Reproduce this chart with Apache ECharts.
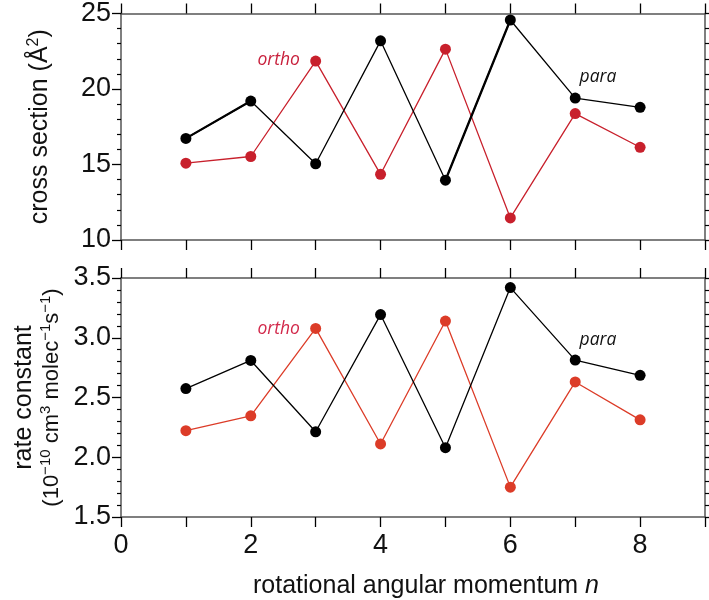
<!DOCTYPE html>
<html><head><meta charset="utf-8">
<script src="https://cdn.jsdelivr.net/npm/echarts@6/dist/echarts.min.js"></script>
<style>html,body{margin:0;padding:0;background:#fff}#c{width:709px;height:600px}</style>
</head><body><div id="c"></div>
<script>
// ---- data ----
const nValues   = [1, 2, 3, 4, 5, 6, 7, 8];
const crossPara  = [16.73, 19.20, 15.05, 23.19, 13.96, 24.57, 19.40, 18.79];
const crossOrtho = [15.09, 15.53, 21.85, 14.35, 22.64, 11.46, 18.37, 16.14];
const ratePara   = [2.575, 2.81, 2.213, 3.194, 2.08, 3.42, 2.813, 2.686];
const rateOrtho  = [2.222, 2.347, 3.078, 2.111, 3.14, 1.75, 2.63, 2.313];
const xTickLabels = [0, 2, 4, 6, 8];
const crossTickLabels = [10, 15, 20, 25];
const rateTickLabels = [1.5, 2.0, 2.5, 3.0, 3.5];
const thickParaSegments = [0, 1, 4, 5]; // indices of the heavier black segments (top panel)

const FONT = 'Liberation Sans';
const AXC = '#555';
const pairs = (vals) => nValues.map((n, i) => [n, vals[i]]);

function xAxis(grid, pos, labels, extra) {
  return Object.assign({
    type: 'value', gridIndex: grid, position: pos, min: 0, max: 9, interval: 1,
    axisLine: { show: true, onZero: false, lineStyle: { color: AXC, width: 1.5 } },
    axisTick: { show: true, inside: false, length: 10, lineStyle: { color: '#000', width: 1.3 } },
    axisLabel: labels ? {
      show: true, margin: 15, fontSize: 27, fontFamily: FONT, color: '#111',
      formatter: v => xTickLabels.includes(v) ? String(v) : ''
    } : { show: false },
    splitLine: { show: false }
  }, extra || {});
}
function yAxis(grid, pos, min, max, interval, labelTicks, fmt, extra) {
  const left = pos === 'left';
  return Object.assign({
    type: 'value', gridIndex: grid, position: pos, min, max, interval,
    axisLine: { show: true, onZero: false, lineStyle: { color: AXC, width: 1.5 } },
    axisTick: { show: true, inside: false, length: left ? 9 : 5, lineStyle: { color: '#000', width: 1.3 } },
    minorTick: { show: true, splitNumber: 5, length: left ? 4 : 5, lineStyle: { color: '#000', width: 1.2 } },
    axisLabel: left ? {
      show: true, margin: 10, fontSize: 27, fontFamily: FONT, color: '#111',
      formatter: v => labelTicks.some(t => Math.abs(t - v) < 1e-6) ? fmt(v) : ''
    } : { show: false },
    splitLine: { show: false }, minorSplitLine: { show: false }
  }, extra || {});
}

const RED_TOP = '#c8202c', RED_BOT = '#dc3c28';
const labelStyle = (c) => ({ fontSize: 17.5, fontStyle: 'italic', fontFamily: 'Open Sans', color: c });
function note(text, coord, color) {
  return {
    symbol: 'rect', symbolSize: 1, silent: true,
    itemStyle: { color: 'rgba(0,0,0,0)' },
    label: Object.assign({ show: true, position: 'inside', formatter: text }, labelStyle(color)),
    data: [{ coord }]
  };
}
function lineSeries(xi, yi, vals, color, width, mp) {
  return {
    type: 'line', xAxisIndex: xi, yAxisIndex: yi, data: pairs(vals),
    symbol: 'circle', symbolSize: 11, showSymbol: true,
    lineStyle: { color, width }, itemStyle: { color }, z: color === '#000' ? 3 : 2,
    markPoint: mp
  };
}

const chart = echarts.init(document.getElementById('c'), null, { renderer: 'canvas' });
chart.setOption({
  animation: false,
  backgroundColor: '#fff',
  grid: [
    { left: 121, top: 11, width: 584, height: 229 },
    { left: 121, top: 278, width: 584, height: 240 }
  ],
  xAxis: [
    xAxis(0, 'bottom', false),
    xAxis(0, 'top', false),
    xAxis(1, 'bottom', true, {
      name: '{a|rotational angular momentum }{i|n}', nameLocation: 'middle', nameGap: 57,
      nameTextStyle: { padding: [0, 0, 0, 26],
        rich: { a: { fontSize: 25, fontFamily: FONT, color: '#111' },
                i: { fontSize: 25, fontFamily: FONT, fontStyle: 'italic', color: '#111' } } }
    }),
    xAxis(1, 'top', false)
  ],
  yAxis: [
    yAxis(0, 'left', 10, 25, 5, crossTickLabels, v => String(v), {
      name: '{a|cross section (Å}{s|2}{a|)}', nameLocation: 'middle', nameGap: 67, nameRotate: 90,
      nameTextStyle: { rich: {
        a: { fontSize: 25, fontFamily: FONT, color: '#111', lineHeight: 28 },
        s: { fontSize: 16, fontFamily: FONT, color: '#111', lineHeight: 18, verticalAlign: 'top' } } }
    }),
    yAxis(0, 'right', 10, 25, 5, crossTickLabels, v => String(v)),
    yAxis(1, 'left', 1.5, 3.5, 0.5, rateTickLabels, v => v.toFixed(1), {
      name: '{a|rate constant}\n{b|(10}{s|−10}{b| cm}{s|3}{b| molec}{s|−1}{b|s}{s|−1}{b|)}',
      nameLocation: 'middle', nameGap: 56, nameRotate: 90,
      nameTextStyle: { rich: {
        a: { fontSize: 25, fontFamily: FONT, color: '#111', lineHeight: 27 },
        b: { fontSize: 22, fontFamily: FONT, color: '#111', lineHeight: 27 },
        s: { fontSize: 15, fontFamily: FONT, color: '#111', lineHeight: 16, verticalAlign: 'top' } } }
    }),
    yAxis(1, 'right', 1.5, 3.5, 0.5, rateTickLabels, v => v.toFixed(1))
  ],
  series: [
    lineSeries(0, 0, crossOrtho, RED_TOP, 1.3, note('ortho', [2.43, 21.9], '#c8203c')),
    lineSeries(0, 0, crossPara, '#000', 1.3, note('para', [7.35, 20.78], '#111')),
    {
      type: 'line', xAxisIndex: 0, yAxisIndex: 0, z: 3, symbol: 'none',
      data: pairs(crossPara.map((v, i) => thickParaSegments.includes(i) ? v : null)),
      connectNulls: false, lineStyle: { color: '#000', width: 2.3 }
    },
    lineSeries(2, 2, rateOrtho, RED_BOT, 1.3, note('ortho', [2.43, 3.07], '#d2284a')),
    lineSeries(2, 2, ratePara, '#000', 1.3, note('para', [7.35, 2.98], '#111'))
  ]
});
</script></body></html>
